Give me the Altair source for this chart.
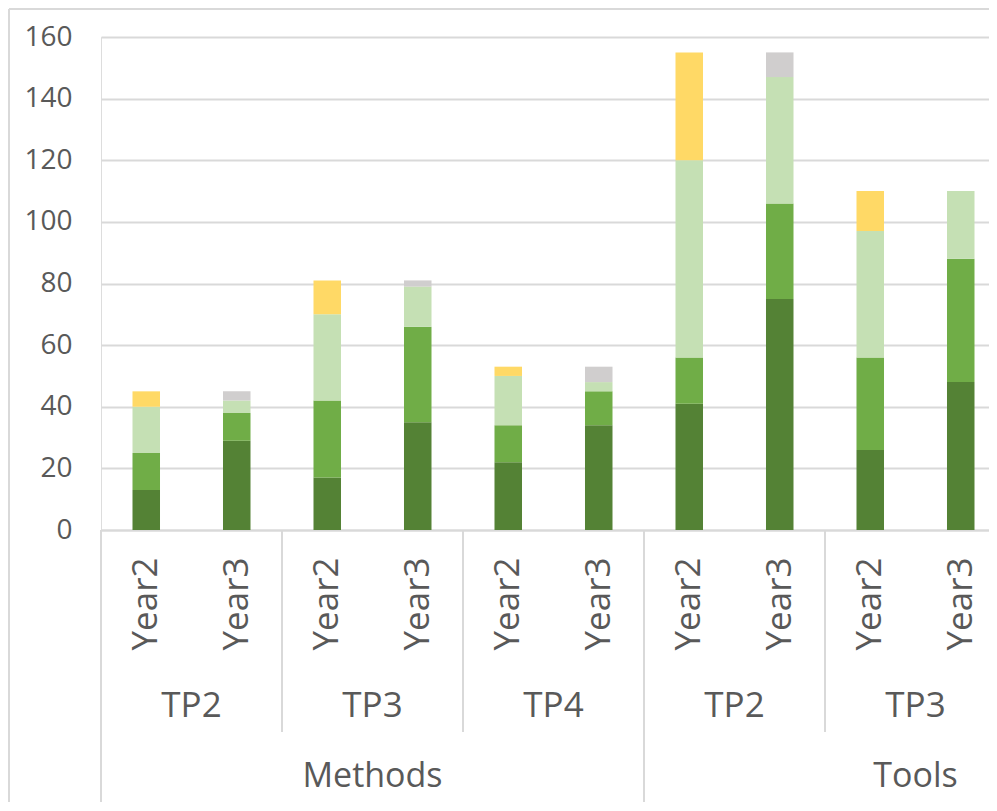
import altair as alt
import pandas as pd

# ---- data ----
areas = ["Methods"] * 6 + ["Tools"] * 4
tps = ["TP2", "TP2", "TP3", "TP3", "TP4", "TP4", "TP2", "TP2", "TP3", "TP3"]
years = ["Year2", "Year3"] * 5
series_names = ["S1", "S2", "S3", "S4", "S5"]
s1 = [13, 29, 17, 35, 22, 34, 41, 75, 26, 48]
s2 = [12, 9, 25, 31, 12, 11, 15, 31, 30, 40]
s3 = [15, 4, 28, 13, 16, 3, 64, 41, 41, 22]
s4 = [5, 0, 11, 0, 3, 0, 35, 0, 13, 0]
s5 = [0, 3, 0, 2, 0, 5, 0, 8, 0, 0]
series_values = [s1, s2, s3, s4, s5]
colors = ["#548235", "#70AD47", "#C5E0B4", "#FFD966", "#D0CECE"]
y_ticks = [0, 20, 40, 60, 80, 100, 120, 140, 160]

keys = [f"{a}|{t}|{y}" for a, t, y in zip(areas, tps, years)]
domain = keys

rows = []
for si, (name, vals) in enumerate(zip(series_names, series_values)):
    for k, v in zip(keys, vals):
        rows.append({"key": k, "series": name, "order": si, "value": v})
df = pd.DataFrame(rows)

# group labels (anchored at the boundary inside each group, as in the picture)
tp_labels = pd.DataFrame({
    "key": ["Methods|TP2|Year2", "Methods|TP3|Year2", "Methods|TP4|Year2",
            "Tools|TP2|Year2", "Tools|TP3|Year2"],
    "label": ["TP2", "TP3", "TP4", "TP2", "TP3"],
})
area_labels = pd.DataFrame({
    "key": ["Methods|TP3|Year2", "Tools|TP3|Year2"],
    "label": ["Methods", "Tools"],
})
tp_seps = pd.DataFrame({"key": ["Methods|TP3|Year2", "Methods|TP4|Year2",
                                "Tools|TP3|Year2"]})
area_seps = pd.DataFrame({"key": ["Methods|TP2|Year2", "Tools|TP2|Year2"]})

STEP = 90.5
W = 888          # visible plot width (category axis continues past the right edge)
H = 493
GRID = "#D9D9D9"
TXT = "#595959"
FONT = "Open Sans"

xscale = alt.Scale(domain=domain, paddingInner=0, paddingOuter=0,
                   range=[0, STEP * len(domain)])

bars = alt.Chart(df).mark_bar(width=alt.RelativeBandSize(0.304)).encode(
    x=alt.X("key:N", scale=xscale, sort=domain, title=None,
            axis=alt.Axis(labelExpr="split(datum.label, '|')[2]", labelAngle=270,
                          labelFontSize=35, labelColor=TXT, labelFont=FONT,
                          labelPadding=27, ticks=False, domainColor=GRID,
                          domainWidth=2, grid=False, labelOverlap=False)),
    y=alt.Y("value:Q", stack="zero", title=None,
            scale=alt.Scale(domain=[0, 160], nice=False),
            axis=alt.Axis(values=y_ticks, labelFontSize=28, labelColor=TXT,
                          labelFont=FONT, labelPadding=29, ticks=False,
                          domain=False, gridColor=GRID, gridWidth=2)),
    color=alt.Color("series:N", scale=alt.Scale(domain=series_names, range=colors),
                    legend=None),
    order=alt.Order("order:Q", sort="ascending"),
)

tp_text = alt.Chart(tp_labels).mark_text(
    fontSize=35, font=FONT, color=TXT, baseline="middle", align="center"
).encode(
    x=alt.X("key:N", bandPosition=1, scale=xscale, sort=domain),
    y=alt.value(H + 176),
    text="label:N",
)

area_text = alt.Chart(area_labels).mark_text(
    fontSize=34, font=FONT, color=TXT, baseline="middle", align="center"
).encode(
    x=alt.X("key:N", bandPosition=1, scale=xscale, sort=domain),
    y=alt.value(H + 247),
    text="label:N",
)

tp_rule = alt.Chart(tp_seps).mark_rule(color=GRID, strokeWidth=2).encode(
    x=alt.X("key:N", bandPosition=0, scale=xscale, sort=domain),
    y=alt.value(H),
    y2=alt.value(H + 202),
)

area_rule = alt.Chart(area_seps).mark_rule(color=GRID, strokeWidth=2).encode(
    x=alt.X("key:N", bandPosition=0, scale=xscale, sort=domain),
    y=alt.value(H),
    y2=alt.value(H + 300),
)

# outer chart border (left and top edges visible in the picture)
border_left = alt.Chart(pd.DataFrame({"k": [0]})).mark_rule(color=GRID, strokeWidth=2).encode(
    x=alt.value(-92), y=alt.value(-28), y2=alt.value(H + 300)
)
border_top = alt.Chart(pd.DataFrame({"k": [0]})).mark_rule(color=GRID, strokeWidth=2).encode(
    x=alt.value(-92), x2=alt.value(W + 10), y=alt.value(-28)
)

chart = alt.layer(
    bars, tp_rule, area_rule, tp_text, area_text, border_left, border_top
).properties(
    width=W, height=H,
    autosize=alt.AutoSizeParams(type="none"),
    padding={"left": 93, "top": 29, "right": 0, "bottom": 272},
).configure_view(stroke=None).configure(background="white")

chart.save("out.html", embed_options={"renderer": "svg", "actions": False})
